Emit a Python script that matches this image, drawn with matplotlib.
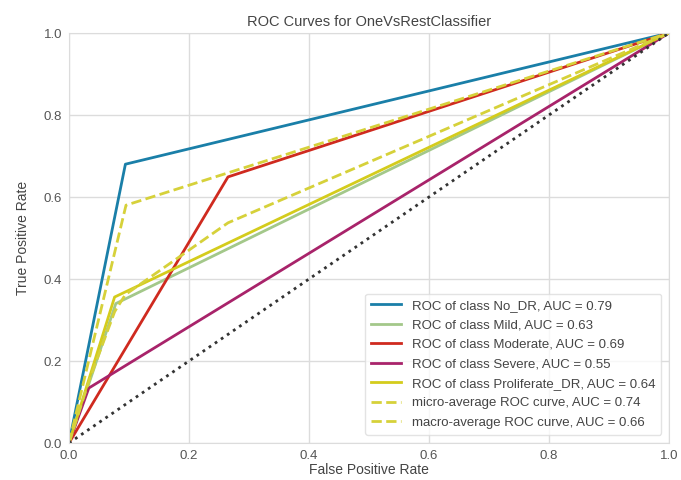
import numpy as np
import matplotlib
matplotlib.use("Agg")
import matplotlib.pyplot as plt

# ROC points (fpr, tpr) for each class
class_names = ["No_DR", "Mild", "Moderate", "Severe", "Proliferate_DR"]
class_auc = [0.79, 0.63, 0.69, 0.55, 0.64]
fpr_no_dr = [0.0, 0.094, 1.0]
tpr_no_dr = [0.0, 0.68, 1.0]
fpr_mild = [0.0, 0.078, 1.0]
tpr_mild = [0.0, 0.34, 1.0]
fpr_moderate = [0.0, 0.265, 1.0]
tpr_moderate = [0.0, 0.649, 1.0]
fpr_severe = [0.0, 0.033, 1.0]
tpr_severe = [0.0, 0.134, 1.0]
fpr_prolif = [0.0, 0.076, 1.0]
tpr_prolif = [0.0, 0.356, 1.0]

# averages
micro_auc = 0.74
fpr_micro = [0.0, 0.095, 1.0]
tpr_micro = [0.0, 0.58, 1.0]
macro_auc = 0.66
fpr_macro = [0.0, 0.033, 0.076, 0.078, 0.094, 0.265, 1.0]
tpr_macro = [0.0, 0.15, 0.32, 0.325, 0.362, 0.537, 1.0]

colors = ["#1a7fa8", "#a3c88a", "#cf2a1f", "#a8236a", "#d4cc1c"]
avg_color = "#d6d13a"

plt.rcParams["font.family"] = ["Liberation Sans", "DejaVu Sans"]

fig = plt.figure(figsize=(6.81, 4.8), dpi=100)
ax = fig.add_axes([69 / 681, 37 / 480, 600 / 681, 410 / 480])

curves = [(fpr_no_dr, tpr_no_dr), (fpr_mild, tpr_mild), (fpr_moderate, tpr_moderate),
          (fpr_severe, tpr_severe), (fpr_prolif, tpr_prolif)]
for (fx, ty), name, auc, c in zip(curves, class_names, class_auc, colors):
    ax.plot(fx, ty, color=c, lw=2, label="ROC of class %s, AUC = %0.2f" % (name, auc))

ax.plot(fpr_micro, tpr_micro, color=avg_color, lw=2, linestyle="--",
        label="micro-average ROC curve, AUC = %0.2f" % micro_auc)
ax.plot(fpr_macro, tpr_macro, color=avg_color, lw=2, linestyle="--",
        label="macro-average ROC curve, AUC = %0.2f" % macro_auc)

# random guess diagonal
ax.plot([0, 1], [0, 1], linestyle=":", color="#333333", lw=2)

ax.set_xlim(0, 1)
ax.set_ylim(0, 1)
ax.set_xticks([0.0, 0.2, 0.4, 0.6, 0.8, 1.0])
ax.set_yticks([0.0, 0.2, 0.4, 0.6, 0.8, 1.0])
ax.grid(True, color="#dcdcdc", lw=1)
ax.set_axisbelow(True)
for s in ax.spines.values():
    s.set_color("#dcdcdc")
ax.tick_params(length=0, labelsize=9.5, labelcolor="#555555", pad=5)

ax.set_title("ROC Curves for OneVsRestClassifier", fontsize=10.5, color="#444444", pad=5)
ax.set_xlabel("False Positive Rate", fontsize=10, color="#444444", labelpad=1)
ax.set_ylabel("True Positive Rate", fontsize=10, color="#444444", labelpad=10)

leg = ax.legend(loc="lower right", fontsize=9.5, frameon=True, labelspacing=0.55,
                borderpad=0.45, handlelength=2.3, borderaxespad=0,
                bbox_to_anchor=(0.987, 0.02))
leg.get_frame().set_edgecolor("#dcdcdc")
leg.get_frame().set_facecolor("white")
for t in leg.get_texts():
    t.set_color("#444444")

fig.savefig("out.png", dpi=100)
